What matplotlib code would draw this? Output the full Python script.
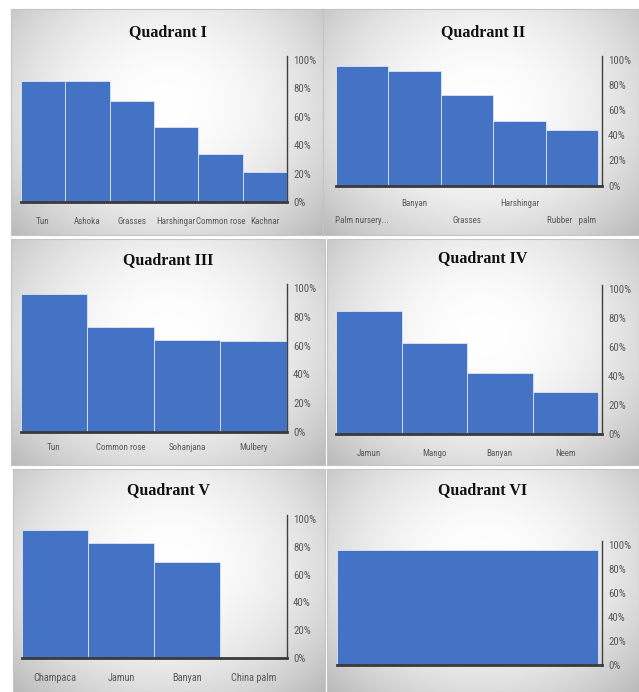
import numpy as np
import matplotlib
matplotlib.use("Agg")
import matplotlib.pyplot as plt
from matplotlib import font_manager as fm
from matplotlib.ticker import FuncFormatter

# ---- data (percent of sites where each species was recorded) ----
q1_species = ["Tun", "Ashoka", "Grasses", "Harshingar", "Common rose", "Kachnar"]
q1_values = [85, 85, 71, 53, 34, 21]

q2_species = ["Palm nursery...", "Banyan", "Grasses", "Harshingar", "Rubber   palm"]
q2_values = [95, 91, 72, 51, 44]

q3_species = ["Tun", "Common rose", "Sohanjana", "Mulbery"]
q3_values = [96, 73, 64, 63]

q4_species = ["Jamun", "Mango", "Banyan", "Neem"]
q4_values = [85, 63, 42, 29]

q5_species = ["Champaca", "Jamun", "Banyan", "China palm"]
q5_values = [92, 83, 69, 0]

q6_species = [""]
q6_values = [96]

titles = ["Quadrant I", "Quadrant II", "Quadrant III",
          "Quadrant IV", "Quadrant V", "Quadrant VI"]
y_ticks = [0, 20, 40, 60, 80, 100]

# ---- fonts ----
available = {f.name for f in fm.fontManager.ttflist}
narrow_family = None
narrow_stretch = "normal"
for cand in ["Liberation Sans Narrow", "Roboto Condensed", "Open Sans Condensed"]:
    if cand in available:
        narrow_family = cand
        break
if narrow_family is None:
    if any(f.name == "DejaVu Sans" and f.stretch == "condensed" for f in fm.fontManager.ttflist):
        narrow_family, narrow_stretch = "DejaVu Sans", "condensed"
        size_scale = 0.95
    else:
        narrow_family = "Liberation Sans"
        size_scale = 0.85
else:
    size_scale = 1.0

TITLE_FONT = dict(family="Liberation Serif", weight="bold", size=11.5, color="#111111")
TICK_SIZE = 7.8 * size_scale
LABEL_SIZE = 6.5 * size_scale
TEXT_GREY = "#595959"
BAR_BLUE = "#4472C4"

W, H = 639, 692
fig = plt.figure(figsize=(W / 100, H / 100), dpi=100)
fig.patch.set_facecolor("white")


def fx(x):
    return x / W


def fy(y):
    return 1 - y / H


def panel_background(x0, y0, x1, y1):
    bg = fig.add_axes([fx(x0), fy(y1), fx(x1) - fx(x0), fy(y0) - fy(y1)])
    nx, ny = 200, 160
    xx, yy = np.meshgrid(np.linspace(-1, 1, nx), np.linspace(-1, 1, ny))
    r = np.sqrt((xx * 1.05) ** 2 + ((yy + 0.15) * 0.9) ** 2) / np.sqrt(2)
    shade = 1.0 - 0.25 * np.clip(r, 0, 1.1) ** 2.0
    img = np.dstack([shade, shade, shade])
    bg.imshow(np.clip(img, 0, 1), aspect="auto", extent=(0, 1, 0, 1),
              interpolation="bilinear")
    bg.set_xlim(0, 1)
    bg.set_ylim(0, 1)
    bg.set_xticks([])
    bg.set_yticks([])
    for s in bg.spines.values():
        s.set_color("#c4c4c4")
        s.set_linewidth(0.8)
    bg.set_zorder(0)
    return bg


def draw_panel(panel, title, title_xy, species, values, plot_box,
               label_rows, label_size=LABEL_SIZE):
    # plot_box: left px, right axis px, bars right px, y of 0%, y of 100%
    left, axis_x, bars_right, y0, y100 = plot_box
    panel_background(*panel)
    top_frac = 1.03
    y_top = y0 - (y0 - y100) * top_frac
    ax = fig.add_axes([fx(left), fy(y0), fx(axis_x) - fx(left), fy(y_top) - fy(y0)])
    ax.set_zorder(2)
    ax.patch.set_alpha(0)
    n = len(values)
    span = n * (axis_x - left) / (bars_right - left)
    x = np.arange(n)
    ax.bar(x, np.array(values) / 100.0, width=1.0, color=BAR_BLUE,
           edgecolor="#dce6f4", linewidth=0.6, zorder=3)
    ax.set_xlim(-0.5, -0.5 + span)
    ax.set_ylim(0, top_frac)
    ax.set_yticks(np.array(y_ticks) / 100.0)
    ax.yaxis.set_major_formatter(FuncFormatter(lambda v, p: f"{v * 100:.0f}%"))
    ax.yaxis.tick_right()
    ax.tick_params(axis="y", length=0, pad=4.5, labelsize=TICK_SIZE, labelcolor=TEXT_GREY)
    for lab in ax.get_yticklabels():
        lab.set_family(narrow_family)
        lab.set_stretch(narrow_stretch)
    ax.set_xticks([])
    for side in ["left", "top"]:
        ax.spines[side].set_visible(False)
    ax.spines["right"].set_color("#404040")
    ax.spines["right"].set_linewidth(1.0)
    ax.spines["bottom"].set_color("#3a3a3a")
    ax.spines["bottom"].set_linewidth(2.0)
    ax.spines["bottom"].set_zorder(4)

    h_px = y0 - y_top
    xt = ax.get_xaxis_transform()
    for i, name in enumerate(species):
        ly = label_rows[i % len(label_rows)]
        ax.text(i, -(ly - y0) / h_px, name, transform=xt, ha="center", va="center",
                fontsize=label_size, color=TEXT_GREY, family=narrow_family,
                stretch=narrow_stretch, clip_on=False)

    fig.text(fx(title_xy[0]), fy(title_xy[1]), title, ha="center", va="center",
             **TITLE_FONT)


draw_panel((11, 9, 323, 235), titles[0], (168, 32), q1_species, q1_values,
           (20.7, 287.3, 287.3, 202, 60), [221])
draw_panel((323, 9, 639, 235), titles[1], (483, 32), q2_species, q2_values,
           (336, 601.7, 598, 185.5, 60), [220.7, 204])
draw_panel((11, 239, 325, 465), titles[2], (168, 260), q3_species, q3_values,
           (20.7, 286.7, 286.7, 432, 288), [448])
draw_panel((327, 239, 639, 465), titles[3], (483, 258), q4_species, q4_values,
           (336, 601.7, 598, 434, 289), [453.3])
draw_panel((13, 469, 325, 692), titles[4], (168, 490), q5_species, q5_values,
           (21.7, 286.7, 286.7, 658, 519), [678], label_size=7.4 * size_scale)
draw_panel((327, 469, 639, 692), titles[5], (483, 490), q6_species, q6_values,
           (337, 601.7, 598.3, 665, 545), [682])

fig.savefig("out.png", dpi=100, facecolor="white")
